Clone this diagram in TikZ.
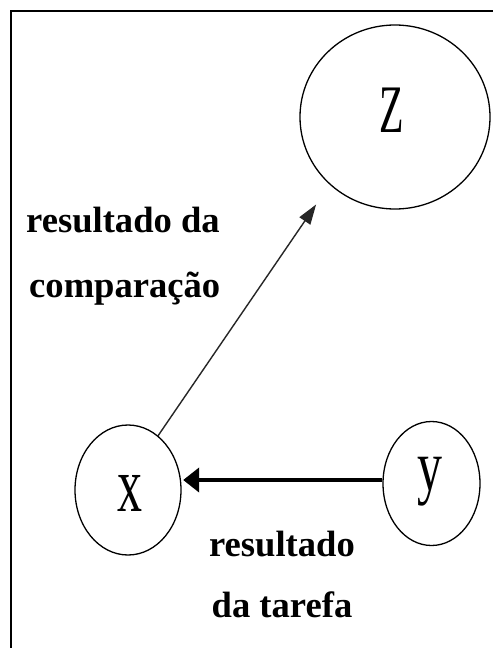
\documentclass[tikz,border=0pt]{standalone}
\usepackage{fontspec}
\setmainfont{Liberation Serif}
\usetikzlibrary{shapes.geometric,arrows.meta,calc}
\tikzset{
  oval/.style={draw=black, line width=1.3pt, ellipse, inner sep=0pt},
  lbl/.style={inner sep=0pt, font=\bfseries\fontsize{36.6}{40}\selectfont},
  letter/.style={inner sep=0pt, anchor=base},
  thinarrow/.style={draw=black!85, line width=1.4pt, -{Triangle[length=20pt,width=13pt]}},
  thickarrow/.style={draw=black, line width=4.2pt, -{Triangle[length=16pt,width=24pt]}}
}
\begin{document}
\begin{tikzpicture}[x=1pt,y=-1pt]
\useasboundingbox (0,0) rectangle (493,648);
\fill[white] (0,0) rectangle (493,648);
% frame (only top and left edges fall inside the picture)
\draw[line width=2.6pt] (10.8,648) -- (10.8,10.8) -- (493,10.8);
% ellipses
\node[oval, minimum width=190pt, minimum height=184pt] (Z) at (395,117) {};
\node[oval, minimum width=106pt, minimum height=130pt] (X) at (128,490) {};
\node[oval, minimum width=97pt, minimum height=124pt] (Y) at (431.5,483.5) {};
% letters
\node[letter, font=\fontsize{40}{40}\selectfont] (zl) at (391.5,132) {\scalebox{1}[1.7]{Z}};
\node[letter, font=\fontsize{50}{50}\selectfont] (xl) at (130,511) {\scalebox{1}[1.57]{x}};
\node[letter, font=\fontsize{50}{50}\selectfont] (yl) at (429.5,490) {\scalebox{1}[1.45]{y}};
% connectors
\draw[thinarrow, shorten >=24pt] (X.61) -- (Z.226);
\coordinate (ys) at ([yshift=3.5pt]Y.west);
\draw[thickarrow, shorten >=1.5pt] (ys) -- (X.east |- ys);
% labels
\node[lbl, anchor=base west] (c1) at (26,232) {resultado da};
\node[lbl, anchor=base west] (c2) at (29,297) {comparação};
\node[lbl, anchor=base] (t1) at (282,556) {resultado};
\node[lbl, anchor=base] (t2) at (282,617) {da tarefa};
\end{tikzpicture}
\end{document}
